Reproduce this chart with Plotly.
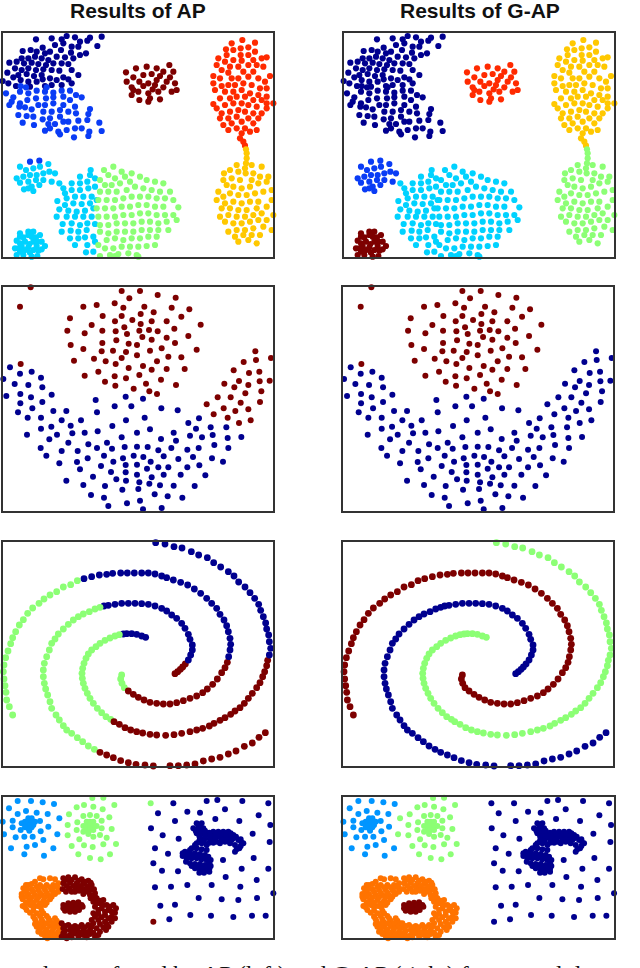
import plotly.graph_objects as go

NAVY_A = [(245,97),(200,108),(108,118),(155,115),(185,118),(225,112),(270,113),(305,110),(240,125),(262,122),(292,138),(128,143),(92,150),(68,153),(165,135),(190,130),(215,140),(235,140),(258,160),(110,155),(135,160),(150,155),(183,150),(213,158),(240,165),(65,175),(85,175),(105,170),(125,175),(145,180),(170,170),(195,172),(220,175),(28,188),(50,185),(72,190),(95,188),(115,192),(138,195),(160,190),(185,190),(205,192),(45,205),(65,210),(85,205),(108,210),(130,208),(155,210),(178,212),(215,210),(235,225),(22,218),(55,225),(80,222),(102,228),(125,225),(150,235),(190,232),(205,238),(40,232),(62,240),(85,245),(110,245),(128,238),(8,243),(25,250),(48,258),(90,260),(155,255),(185,255),(215,250),(170,240),(135,258)]
BLUE_A = [(62,258),(78,262),(140,262),(18,280),(40,292),(60,275),(85,280),(110,272),(135,275),(160,278),(185,272),(210,272),(228,285),(245,292),(35,305),(28,315),(60,310),(82,300),(108,295),(138,295),(160,292),(190,290),(210,300),(58,320),(75,322),(95,328),(115,315),(135,315),(160,310),(190,315),(225,320),(270,327),(55,345),(80,348),(100,350),(130,335),(155,335),(180,330),(205,335),(228,340),(265,342),(68,368),(102,375),(128,358),(150,355),(180,350),(205,365),(235,362),(262,360),(298,368),(145,372),(165,372),(190,365),(225,385),(245,385),(135,392),(150,385),(175,395),(200,390),(268,395),(305,393),(180,403),(222,412),(265,408)]
TOP_BLOB = [(378,217),(408,205),(440,200),(508,195),(470,205),(430,225),(490,215),(520,215),(400,232),(455,222),(480,228),(510,232),(380,245),(418,245),(445,250),(470,240),(500,245),(525,250),(395,262),(430,258),(458,268),(490,262),(530,270),(395,285),(415,275),(445,280),(475,275),(515,275),(418,300),(450,295),(480,298),(445,305),(400,270),(465,255)]
UPPER_RIGHT = [(727,120),(695,130),(765,128),(678,148),(700,150),(722,145),(745,142),(765,155),(680,165),(722,165),(745,165),(785,175),(800,172),(655,175),(675,185),(700,180),(725,182),(760,180),(650,195),(690,200),(715,200),(745,195),(770,195),(790,200),(665,210),(685,218),(730,215),(760,215),(640,228),(660,235),(695,235),(715,235),(745,230),(775,235),(810,228),(795,245),(640,250),(665,258),(685,255),(705,255),(730,250),(755,255),(780,265),(800,265),(645,270),(675,275),(700,275),(725,270),(750,280),(775,285),(800,290),(640,312),(660,295),(690,295),(710,290),(735,290),(760,300),(785,300),(820,310),(800,310),(650,325),(675,315),(700,310),(725,310),(745,315),(770,320),(800,325),(665,340),(690,335),(715,330),(735,335),(760,340),(785,340),(660,355),(685,355),(710,350),(745,355),(775,355),(670,375),(695,370),(725,365),(760,370),(685,390),(710,385),(735,385),(770,390),(725,400),(750,395),(720,415),(730,425),(735,437)]
LOWER_RIGHT = [(738,448),(740,460),(740,475),(738,490),(735,505),(737,520),(710,495),(755,495),(690,510),(672,520),(715,515),(760,520),(785,500),(805,530),(670,540),(695,535),(720,540),(755,540),(780,530),(655,575),(680,555),(700,560),(725,565),(750,560),(775,550),(800,545),(815,570),(670,590),(690,580),(715,585),(740,585),(765,580),(790,575),(650,600),(675,610),(700,605),(725,610),(750,605),(775,605),(815,600),(825,605),(665,625),(690,625),(715,630),(740,630),(770,625),(800,620),(660,650),(685,645),(710,650),(735,650),(760,645),(785,640),(820,645),(675,665),(700,670),(725,670),(750,665),(775,660),(800,660),(685,695),(710,690),(735,690),(760,685),(790,680),(815,690),(705,710),(730,705),(755,705),(780,705),(715,725),(745,720),(770,730)]
SMALL_TOP = [(60,500),(78,510),(100,505),(120,500),(145,492),(165,520),(50,535),(70,530),(90,525),(110,525),(130,520),(148,515),(60,548),(85,545),(108,540),(130,540),(155,545),(72,568),(95,560),(118,555),(100,573),(85,565)]
SMALL_TOP_BLUE = [(90,485),(118,482)]
SMALL_CORNER = [(60,700),(85,695),(100,695),(70,712),(95,710),(120,705),(50,722),(75,725),(100,725),(125,725),(45,745),(65,740),(85,742),(110,738),(135,738),(60,755),(90,758),(115,752),(82,772),(50,765),(112,768),(60,710),(85,705),(108,712),(60,730),(88,732),(112,725),(75,750),(100,750),(125,748),(55,745),(70,765),(95,770)]
MID_LEFT = [(178,550),(195,580),(272,510),(240,530),(270,525),(215,550),(240,550),(262,545),(285,535),(190,565),(215,570),(240,570),(265,565),(285,560),(200,595),(225,590),(250,590),(275,590),(172,603),(195,615),(220,610),(245,612),(270,610),(290,600),(178,628),(205,632),(230,635),(255,632),(280,625),(170,650),(200,650),(225,650),(250,650),(275,650),(188,672),(215,670),(240,675),(262,670),(285,672),(185,695),(212,692),(235,695),(260,690),(210,715),(235,715),(255,712),(280,710),(225,735),(262,735),(285,725),(258,757),(280,755)]
MID_RIGHT = [(312,510),(340,500),(325,525),(365,515),(395,520),(300,540),(345,535),(375,530),(420,530),(440,540),(315,555),(335,555),(360,550),(390,545),(465,545),(490,550),(300,575),(325,575),(350,575),(380,570),(405,560),(430,565),(455,570),(480,575),(510,575),(295,600),(320,600),(345,600),(370,595),(395,590),(420,590),(445,590),(470,595),(495,595),(520,600),(290,625),(315,625),(340,625),(365,620),(390,620),(415,615),(440,615),(465,620),(490,620),(535,622),(295,650),(320,650),(345,650),(370,645),(395,645),(420,640),(445,640),(470,645),(495,645),(520,645),(300,675),(325,675),(350,670),(375,670),(400,670),(425,665),(450,665),(475,670),(500,665),(530,660),(300,695),(325,700),(350,695),(375,695),(400,695),(425,690),(450,690),(475,690),(505,690),(320,720),(345,715),(370,720),(395,715),(420,715),(445,710),(470,710),(295,735),(315,745),(340,745),(365,740),(390,740),(415,740),(440,738),(465,735),(300,768),(330,765),(355,762),(385,760),(410,765),(370,772),(415,770),(345,768)]

MOON_TOP = [(92,22),(60,80),(365,33),(420,33),(388,55),(473,45),(527,53),(250,80),(290,75),(344,70),(370,83),(433,80),(515,83),(568,88),(210,115),(308,108),(365,108),(422,102),(461,97),(544,110),(345,124),(397,120),(455,124),(500,124),(275,135),(422,132),(602,134),(202,152),(254,160),(307,152),(347,154),(373,142),(381,162),(418,152),(447,150),(473,154),(523,146),(427,171),(455,179),(500,173),(565,168),(307,189),(349,181),(386,191),(411,195),(525,189),(212,195),(250,207),(305,214),(339,212),(378,216),(450,212),(485,205),(590,209),(411,226),(365,234),(282,236),(222,242),(317,244),(347,252),(471,244),(505,230),(544,232),(386,264),(429,258),(455,269),(500,267),(554,267),(295,275),(254,287),(344,289),(378,295),(418,285),(483,299),(315,305),(346,317),(438,311),(528,315),(401,326),(448,334),(471,342),(62,252)]
MOON_ARM = [(766,214),(813,234),(731,246),(768,240),(819,262),(701,271),(747,279),(778,275),(717,303),(779,304),(809,302),(673,311),(745,315),(703,322),(784,334),(736,340),(653,352),(692,352),(722,368),(780,366),(620,373),(671,385),(745,388),(706,393),(641,403),(683,413),(752,421),(717,429)]
MOON_BOWL = [(30,262),(60,281),(95,275),(10,297),(123,293),(44,312),(85,315),(127,322),(19,348),(61,342),(93,352),(155,344),(61,370),(127,366),(97,385),(54,397),(160,393),(199,393),(287,360),(377,350),(429,356),(344,379),(394,379),(484,385),(533,391),(291,397),(83,413),(123,413),(185,421),(243,421),(378,421),(434,413),(597,415),(565,429),(123,446),(154,440),(212,437),(337,438),(450,448),(588,446),(632,442),(679,442),(81,464),(171,464),(217,460),(254,458),(293,454),(411,458),(365,472),(521,458),(570,467),(606,472),(638,465),(683,474),(724,471),(148,478),(205,488),(483,477),(528,482),(265,493),(321,488),(643,495),(122,504),(291,504),(336,506),(374,501),(411,500),(443,501),(514,504),(562,509),(596,504),(685,504),(185,513),(233,513),(475,511),(139,527),(312,527),(401,527),(430,531),(491,529),(579,531),(263,535),(369,535),(636,535),(535,537),(669,545),(178,550),(231,546),(340,545),(452,545),(377,555),(411,554),(303,558),(240,568),(475,562),(505,562),(562,562),(598,556),(441,566),(333,576),(377,577),(411,584),(491,584),(542,584),(616,586),(279,590),(455,592),(349,598),(378,602),(199,602),(418,607),(448,611),(250,615),(315,618),(480,616),(521,617),(584,618),(367,629),(415,627),(273,645),(464,643),(312,653),(503,649),(547,653),(420,662),(381,670),(325,678),(485,684),(429,688),(385,696)]

ARM1_A = [(437,307),(425,303),(410,298),(395,296),(380,296),(370,297)]
ARM1_B = [(358,299),(345,303),(330,309),(315,316),(300,325),(288,335),(275,345),(265,357),(258,370),(252,385),(248,400),(246,415),(247,430),(250,445),(255,460),(262,475),(270,490),(280,505),(292,520),(305,533),(318,545),(332,553)]
ARM1_C = [(342,560),(358,568),(375,578),(392,585),(410,590),(428,594),(450,598),(470,600),(497,601),(522,599),(545,595),(570,590),(590,585),(608,580),(628,573),(642,565),(660,556),(675,548),(692,538),(705,528),(720,518),(733,505),(745,490),(757,475),(770,458),(780,443),(788,425),(794,410),(800,392),(803,376)]
ARM1_D = [(808,360),(812,340),(808,320),(806,300),(800,282),(797,264),(790,245),(782,226),(776,208),(764,190),(750,173),(735,156),(716,141),(702,123),(685,110),(662,96),(641,83),(622,68),(596,60),(574,50),(546,39),(522,35),(495,27),(467,23)]
ARM2_A = [(525,416),(533,410),(541,403),(548,396),(556,387)]
ARM2_B = [(565,375),(572,360),(577,345),(577,330),(570,313),(565,298),(555,280),(545,265),(530,250),(515,240),(500,228),(485,220),(465,213),(445,208),(425,206),(405,205),(385,205),(365,205),(345,208),(325,211),(312,213)]
ARM2_C = [(300,217),(285,222),(268,230),(250,237),(235,245),(220,255),(205,268),(190,282),(175,297),(165,312),(155,325),(148,345),(140,365),(133,385),(130,405),(130,425),(133,445),(137,462),(143,480),(150,500),(155,520),(168,540),(178,555),(190,572),(200,585),(215,595),(232,608),(248,620),(265,633),(283,643)]
ARM2_D = [(300,652),(320,660),(340,668),(362,677),(385,683),(408,688),(435,690),(460,693),(485,695),(510,692),(535,692),(560,690),(585,687),(610,678),(635,672),(660,667),(685,657),(708,648),(733,634),(757,624),(777,607),(796,593),(820,577)]
ARM3_A = [(365,420),(362,432),(366,445),(373,458)]
ARM3_B = [(385,468),(400,478),(415,487),(432,495),(450,502),(470,505),(490,507),(510,507),(530,503),(550,497),(570,490),(590,483),(608,473),(622,462),(638,448),(652,432),(665,413),(675,398),(682,382)]
ARM3_C = [(686,365),(690,345),(692,328),(690,310),(685,290),(680,272),(672,255),(660,238),(650,220),(635,205),(620,190),(602,175),(583,162),(563,150),(542,142),(520,135),(500,128),(485,123),(465,117),(445,114),(425,114),(403,114),(382,114),(362,114),(338,115),(320,118),(298,120),(275,125),(252,131)]
ARM3_D = [(232,137),(212,149),(190,156),(170,170),(150,180),(132,192),(117,205),(98,219),(83,235),(70,254),(58,270),(47,290),(38,308),(32,326),(24,348),(17,368),(12,390),(10,410),(12,432),(15,452),(18,472),(20,495),(28,515),(38,540)]

AZURE_D = [(53,33),(93,33),(128,37),(162,42),(27,55),(78,63),(110,68),(53,72),(143,72),(8,95),(38,92),(120,93),(38,112),(145,110),(12,133),(62,120),(122,124),(47,142),(73,140),(98,140),(130,150),(33,175),(80,170),(105,165),(160,175),(73,193),(132,197),(85,85),(95,85),(75,95),(85,95),(95,95),(105,95),(65,100),(80,105),(90,105),(100,105),(85,115),(75,112),(95,112),(88,122)]
AZURE_TO_LIME = [(178,85),(172,133)]
LIME_D = [(277,24),(310,23),(343,45),(230,52),(252,45),(280,50),(308,58),(207,73),(250,78),(270,75),(290,78),(328,82),(232,97),(305,92),(203,105),(335,117),(230,120),(320,143),(203,136),(238,148),(300,135),(280,140),(348,162),(215,168),(252,166),(278,171),(310,163),(235,193),(270,204),(302,208),(330,193),(260,95),(270,95),(280,95),(250,108),(260,108),(270,108),(280,108),(290,108),(260,120),(270,120),(280,120),(250,125),(265,132),(305,115)]
LIME_ODD = [(452,40)]
DARK_ODD = [(460,395)]
SCATTER_D = [(520,40),(620,33),(652,30),(727,33),(805,40),(474,70),(562,65),(600,68),(675,58),(776,76),(525,93),(646,87),(718,93),(811,105),(453,115),(488,136),(536,146),(758,131),(809,156),(465,175),(504,191),(669,210),(761,204),(460,220),(486,242),(534,244),(725,236),(805,236),(677,261),(770,270),(465,292),(513,290),(562,285),(635,285),(721,290),(820,310),(596,324),(665,328),(715,330),(771,324),(481,347),(525,344),(571,375),(633,377),(700,381),(756,377),(797,377),(508,388)]
BLOB_D = [(590,100),(605,100),(580,115),(595,115),(610,115),(590,130),(605,130),(620,130),(640,125),(655,125),(670,125),(685,125),(700,135),(640,140),(655,140),(670,140),(685,140),(700,145),(715,150),(725,158),(600,145),(615,145),(630,148),(650,155),(675,155),(690,160),(705,165),(718,175),(705,185),(590,160),(605,160),(620,165),(575,175),(590,175),(605,178),(620,180),(555,185),(570,190),(585,190),(600,192),(615,195),(548,198),(560,205),(575,205),(590,205),(605,208),(620,210),(570,220),(585,222),(600,222),(615,225),(628,220),(585,235),(600,240),(615,242),(628,236),
          (597,108),(587,122),(603,122),(615,122),(628,128),(648,132),(662,132),(678,132),(692,130),(708,140),(722,148),(730,160),(722,168),(710,178),(695,150),(680,150),(665,150),(645,150),(630,138),(615,138),(598,138),(612,155),(628,158),(640,158),(660,160),(598,152),(585,165),(570,180),(560,190),(548,190),(565,198),(580,198),(595,198),(610,200),(625,200),(632,210),(558,215),(575,228),(590,230),(605,232),(620,232),(632,228),(612,248),(598,248),(628,245)]
CORE_D = [(190,345),(205,340),(220,338),(235,337),(245,345),(190,355),(205,355),(220,352),(235,352),(248,350),(195,362),(210,365),(225,365),(237,360),(198,348),(212,348),(228,345),(240,348),(200,358),(215,360),(230,358)]
RING_WEST = [(150,265),(130,268),(105,275),(165,268),(85,285),(120,285),(140,285),(160,285),(175,280),(70,295),(95,298),(115,300),(135,300),(155,300),(175,295),(65,312),(85,312),(105,315),(125,315),(145,315),(165,312),(68,328),(88,330),(110,330),(130,332),(150,328),(68,348),(90,345),(112,348),(135,345),(80,360),(100,362),(125,362),(100,380),(120,378),(140,378),(108,395),(128,395),(150,392),(170,392),(110,410),(130,410),(150,408),(170,408),(115,425),(135,425),(155,425),(175,425),(135,438),(155,440),(170,440),(180,450),(160,447),(142,445),
             (120,265),(95,282),(75,305),(65,320),(78,320),(95,322),(115,322),(135,322),(155,320),(78,338),(100,338),(120,340),(140,338),(75,352),(100,352),(122,352),(90,368),(110,370),(130,370),(105,388),(125,388),(145,385),(165,385),(105,402),(120,402),(140,400),(160,400),(178,400),(120,418),(140,418),(160,416),(178,415),(125,432),(145,432),(165,432),(178,435),(78,285),(110,290),(130,292),(150,292),(168,290),(80,298),(100,305),(120,308),(140,308),(160,305),(175,305)]
RING_EAST = [(190,265),(205,262),(225,262),(245,268),(265,272),(190,280),(210,278),(230,280),(250,282),(275,285),(188,297),(208,295),(228,295),(250,298),(272,300),(285,310),(225,305),(250,312),(270,315),(290,325),(310,330),(280,335),(300,340),(320,345),(340,345),(285,350),(305,355),(325,360),(345,368),(280,370),(295,372),(315,375),(335,380),(275,390),(295,390),(315,395),(335,395),(185,400),(205,405),(225,408),(245,405),(265,405),(190,415),(210,420),(230,420),(250,420),(270,420),(290,415),(310,412),(325,410),(190,430),(210,435),(225,430),(250,435),(270,432),(295,435),(200,445),(185,440),
             (198,270),(215,270),(235,272),(255,275),(272,278),(200,288),(220,288),(240,288),(262,290),(282,298),(198,305),(215,305),(238,302),(262,305),(285,320),(272,325),(300,332),(290,340),(310,345),(330,350),(295,360),(315,365),(335,365),(348,355),(285,380),(305,382),(325,385),(345,385),(280,400),(300,402),(320,402),(195,408),(215,412),(235,412),(255,412),(275,410),(195,422),(220,425),(240,428),(260,428),(280,428),(300,425),(318,420),(198,438),(215,442),(235,440),(260,442),(285,440)]

TITLES = ["Results of AP", "Results of G-AP"]
CAPTION = "clusters found by AP (left) and G-AP (right) for several data"

NAVY, BLUE, AZURE, CYAN, LIME, YELLOW, ORANGE, RED, DARK = "#00008f", "#0a3cf5", "#0095ff", "#00d2ff", "#8cff75", "#ffc800", "#ff7300", "#ff2a00", "#7d0000"

ROWS = [
    dict(xr=(8, 820), yr=(100, 770), crop=0, off=(0, 341), size=6.2),
    dict(xr=(8, 818), yr=(22, 693), crop=280, off=(0, 340.7), size=6.0),
    dict(xr=(8, 818), yr=(22, 693), crop=535, off=(0, 340.7), size=6.8),
    dict(xr=(8, 820), yr=(22, 445), crop=790, off=(0, 340.7), size=6.0),
]
PANELS = [
    [[(NAVY_A, NAVY), (BLUE_A, BLUE), (SMALL_TOP_BLUE, BLUE), (TOP_BLOB, DARK), (UPPER_RIGHT, RED), (LOWER_RIGHT, YELLOW), (SMALL_TOP, CYAN), (SMALL_CORNER, CYAN), (MID_LEFT, CYAN), (MID_RIGHT, LIME)],
     [(NAVY_A, NAVY), (BLUE_A, NAVY), (SMALL_TOP_BLUE, BLUE), (TOP_BLOB, RED), (UPPER_RIGHT, YELLOW), (LOWER_RIGHT, LIME), (SMALL_TOP, BLUE), (SMALL_CORNER, DARK), (MID_LEFT, CYAN), (MID_RIGHT, CYAN)]],
    [[(MOON_TOP, DARK), (MOON_ARM, DARK), (MOON_BOWL, NAVY)],
     [(MOON_TOP, DARK), (MOON_ARM, NAVY), (MOON_BOWL, NAVY)]],
    [[(ARM1_A, NAVY), (ARM1_B, LIME), (ARM1_C, DARK), (ARM1_D, NAVY), (ARM2_A, DARK), (ARM2_B, NAVY), (ARM2_C, LIME), (ARM2_D, DARK), (ARM3_A, LIME), (ARM3_B, DARK), (ARM3_C, NAVY), (ARM3_D, LIME)],
     [(ARM1_A, LIME), (ARM1_B, LIME), (ARM1_C, LIME), (ARM1_D, LIME), (ARM2_A, NAVY), (ARM2_B, NAVY), (ARM2_C, NAVY), (ARM2_D, NAVY), (ARM3_A, DARK), (ARM3_B, DARK), (ARM3_C, DARK), (ARM3_D, DARK)]],
    [[(AZURE_D, AZURE), (AZURE_TO_LIME, AZURE), (LIME_D, LIME), (LIME_ODD, LIME), (DARK_ODD, DARK), (SCATTER_D, NAVY), (BLOB_D, NAVY), (CORE_D, DARK), (RING_WEST, ORANGE), (RING_EAST, DARK)],
     [(AZURE_D, AZURE), (AZURE_TO_LIME, LIME), (LIME_D, LIME), (LIME_ODD, NAVY), (DARK_ODD, NAVY), (SCATTER_D, NAVY), (BLOB_D, NAVY), (CORE_D, DARK), (RING_WEST, ORANGE), (RING_EAST, ORANGE)]],
]

W, H = 640, 968
fig = go.Figure()
n = 0
for r, row in enumerate(ROWS):
    for c in range(2):
        n += 1
        xa = "x" if n == 1 else f"x{n}"
        ya = "y" if n == 1 else f"y{n}"
        for pts, col in PANELS[r][c]:
            fig.add_trace(go.Scatter(x=[p[0] for p in pts], y=[p[1] for p in pts], mode="markers",
                                     xaxis=xa, yaxis=ya, cliponaxis=False, showlegend=False, hoverinfo="skip",
                                     marker=dict(color=col, size=row["size"], line=dict(width=0))))
        x0 = row["xr"][0] / 3 + row["off"][c]
        x1 = row["xr"][1] / 3 + row["off"][c]
        y0 = row["yr"][0] / 3 + row["crop"]
        y1 = row["yr"][1] / 3 + row["crop"]
        axstyle = dict(showgrid=False, zeroline=False, showticklabels=False, ticks="", showline=True,
                       mirror=True, linecolor="#333333", linewidth=1.5)
        key = "" if n == 1 else str(n)
        fig.update_layout(**{
            f"xaxis{key}": dict(range=list(row["xr"]), domain=[x0 / W, x1 / W], anchor=ya, **axstyle),
            f"yaxis{key}": dict(range=[row["yr"][1], row["yr"][0]], domain=[1 - y1 / H, 1 - y0 / H], anchor=xa, **axstyle),
        })

ann = [
    dict(text=f"<b>{TITLES[0]}</b>", x=137.5 / W, y=1 - 10 / H, font=dict(size=21)),
    dict(text=f"<b>{TITLES[1]}</b>", x=480 / W, y=1 - 10 / H, font=dict(size=21)),
    dict(text=CAPTION, x=320 / W, y=1 - 974.5 / H, font=dict(size=24, family="Liberation Serif")),
]
for a in ann:
    a["font"].setdefault("family", "Liberation Sans")
    a["font"]["color"] = "#111111"
    fig.add_annotation(xref="paper", yref="paper", xanchor="center", yanchor="middle", showarrow=False, **a)

fig.update_layout(width=W, height=H, margin=dict(l=0, r=0, t=0, b=0), autosize=False,
                  paper_bgcolor="white", plot_bgcolor="white")
fig.write_html("out.html", config={"displayModeBar": False},
               post_script="document.body.style.margin='0';document.body.style.overflow='hidden';")
